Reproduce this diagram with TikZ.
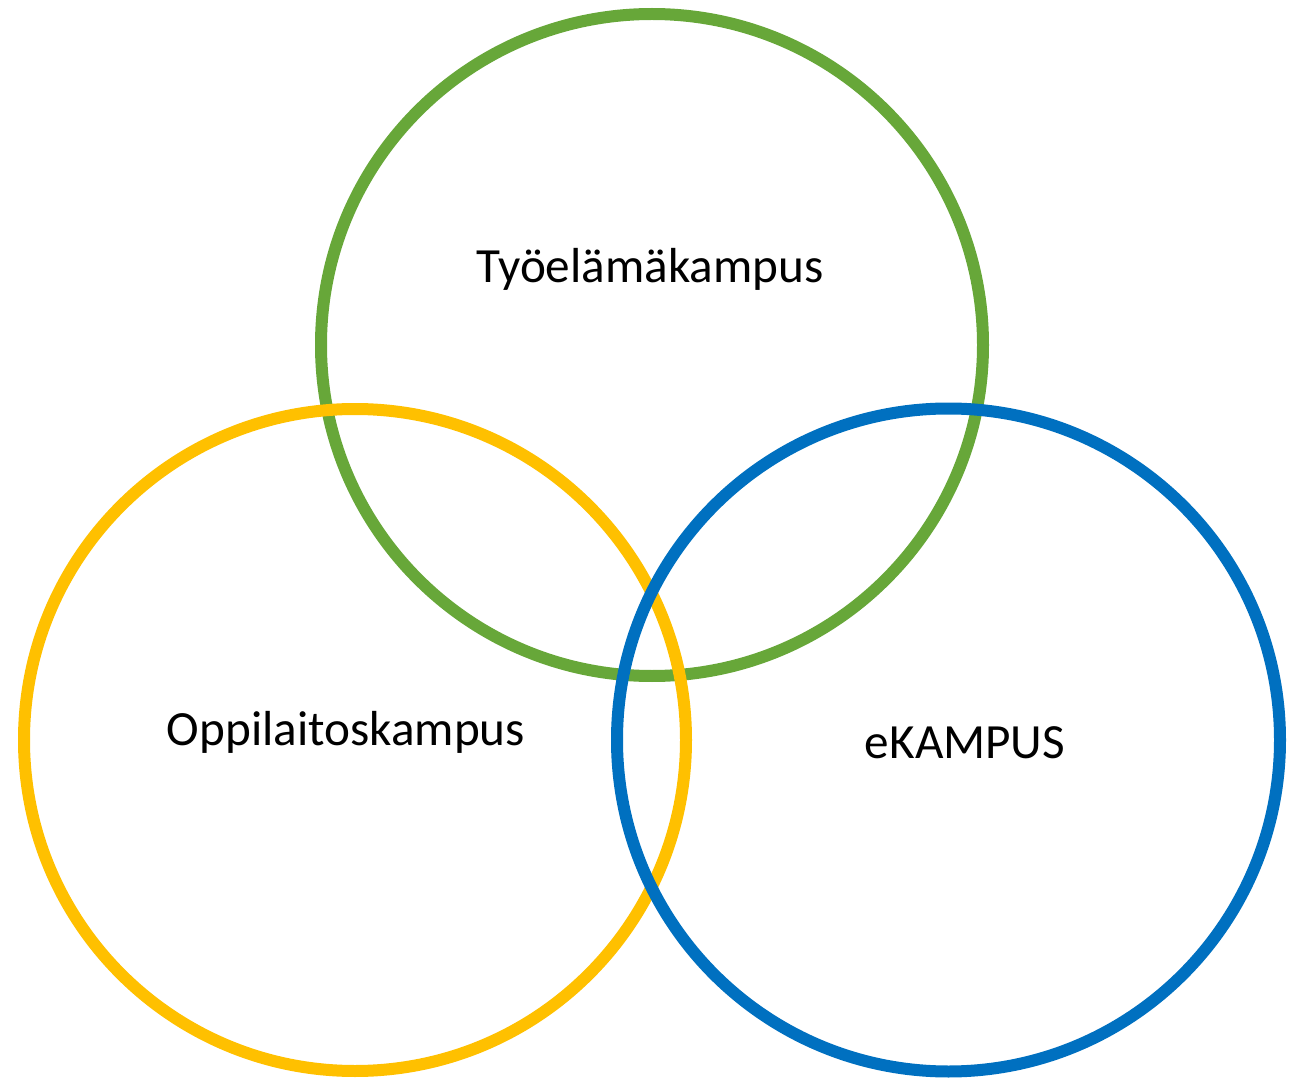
\documentclass[tikz,border=0pt]{standalone}
\usepackage{fontspec}
\setmainfont{Carlito}
\definecolor{ringGreen}{RGB}{103,167,57}
\definecolor{ringYellow}{RGB}{255,192,0}
\definecolor{ringBlue}{RGB}{0,112,192}
\usetikzlibrary{positioning}

\begin{document}
\begin{tikzpicture}[x=0.02cm,y=-0.02cm,
                ring/.style={line width=0.24cm},
                campus/.style={font=\fontsize{28}{34}\selectfont,anchor=base,inner sep=0pt}
            ]
                \useasboundingbox (0,0) rectangle (1289,1081);
                \draw[ring,ringGreen] (652,345) circle[radius=331*0.02cm];
                \draw[ring,ringYellow] (355,740) circle[radius=331*0.02cm];
                \draw[ring,ringBlue] (948.5,740) circle[radius=331.5*0.02cm];
                \node[campus] (tyoelama) at (650,283) {Työelämäkampus};
                \node[campus] (oppilaitos) at (346,745) {Oppilaitoskampus};
                \node[campus] (ekampus) at (965,758) {eKAMPUS};
            \end{tikzpicture}
\end{document}
